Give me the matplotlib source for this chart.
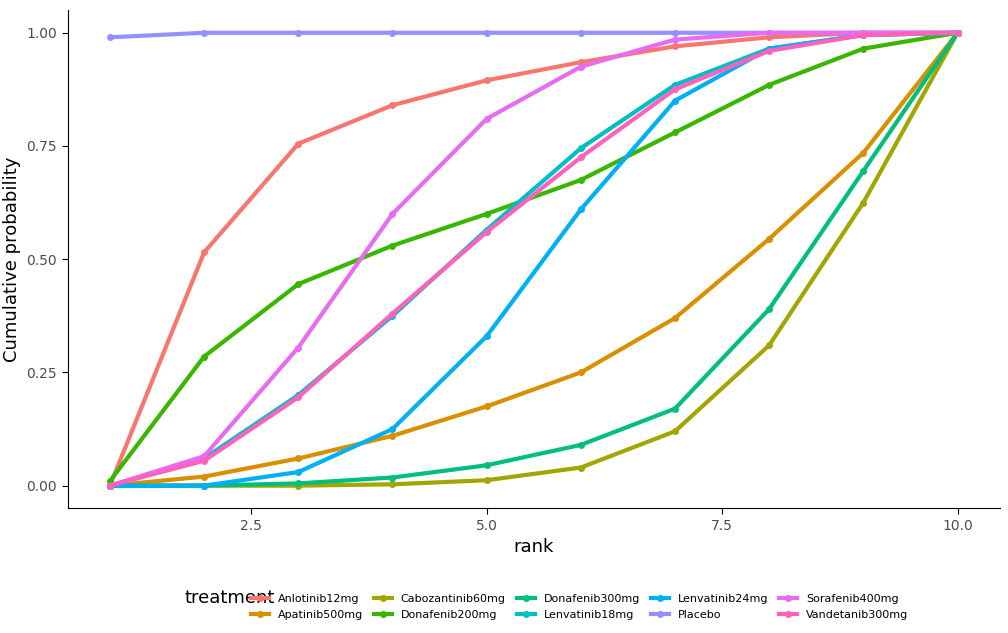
import numpy as np
import matplotlib
matplotlib.use('Agg')
import matplotlib.pyplot as plt
from matplotlib.lines import Line2D

ranks = list(range(1, 11))
treatments = ["Anlotinib12mg", "Apatinib500mg", "Cabozantinib60mg", "Donafenib200mg",
              "Donafenib300mg", "Lenvatinib18mg", "Lenvatinib24mg", "Placebo",
              "Sorafenib400mg", "Vandetanib300mg"]
colors = ["#F8766D", "#D89000", "#A3A500", "#39B600", "#00BF7D",
          "#00BFC4", "#00B0F6", "#9590FF", "#E76BF3", "#FF62BC"]

anlotinib = [0, 0.515, 0.755, 0.84, 0.895, 0.935, 0.97, 0.99, 1, 1]
apatinib = [0, 0.02, 0.06, 0.11, 0.175, 0.25, 0.37, 0.545, 0.735, 1]
cabozantinib = [0, 0, 0, 0.003, 0.012, 0.04, 0.12, 0.31, 0.625, 1]
donafenib200 = [0.01, 0.285, 0.445, 0.53, 0.6, 0.675, 0.78, 0.885, 0.965, 1]
donafenib300 = [0, 0, 0.005, 0.018, 0.045, 0.09, 0.17, 0.39, 0.695, 1]
lenvatinib18 = [0, 0.06, 0.2, 0.375, 0.565, 0.745, 0.885, 0.965, 0.995, 1]
lenvatinib24 = [0, 0, 0.03, 0.125, 0.33, 0.61, 0.85, 0.965, 0.995, 1]
placebo = [0.99, 1, 1, 1, 1, 1, 1, 1, 1, 1]
sorafenib = [0, 0.065, 0.305, 0.6, 0.81, 0.925, 0.985, 1, 1, 1]
vandetanib = [0, 0.055, 0.195, 0.38, 0.56, 0.725, 0.875, 0.96, 0.995, 1]

series = [anlotinib, apatinib, cabozantinib, donafenib200, donafenib300,
          lenvatinib18, lenvatinib24, placebo, sorafenib, vandetanib]

fig = plt.figure(figsize=(10.08, 6.33), dpi=100)
ax = fig.add_axes([0.067, 0.197, 0.925, 0.787])

for vals, c in zip(series, colors):
    ax.plot(ranks, vals, color=c, lw=3, marker='o', ms=4, solid_capstyle='butt')

ax.set_xlim(0.55, 10.45)
ax.set_ylim(-0.05, 1.05)
ax.set_xticks([2.5, 5.0, 7.5, 10.0])
ax.set_xticklabels(["2.5", "5.0", "7.5", "10.0"])
ax.set_yticks([0, 0.25, 0.5, 0.75, 1.0])
ax.set_yticklabels(["0.00", "0.25", "0.50", "0.75", "1.00"])
ax.tick_params(axis='both', colors='black', length=4, labelsize=10)
for lab in ax.get_xticklabels() + ax.get_yticklabels():
    lab.set_color("#4d4d4d")
ax.spines['top'].set_visible(False)
ax.spines['right'].set_visible(False)
ax.set_xlabel("rank", fontsize=13)
ax.set_ylabel("Cumulative probability", fontsize=13)

handles = [Line2D([0], [0], color=c, lw=3, marker='o', ms=4) for c in colors]
leg = fig.legend(handles, treatments, loc='lower center', bbox_to_anchor=(0.575, 0.005),
                 ncol=5, frameon=False, fontsize=8, handlelength=1.6,
                 columnspacing=1.0)
fig.text(0.183, 0.055, "treatment", fontsize=13, va='center')

fig.savefig("out.png", dpi=100)
